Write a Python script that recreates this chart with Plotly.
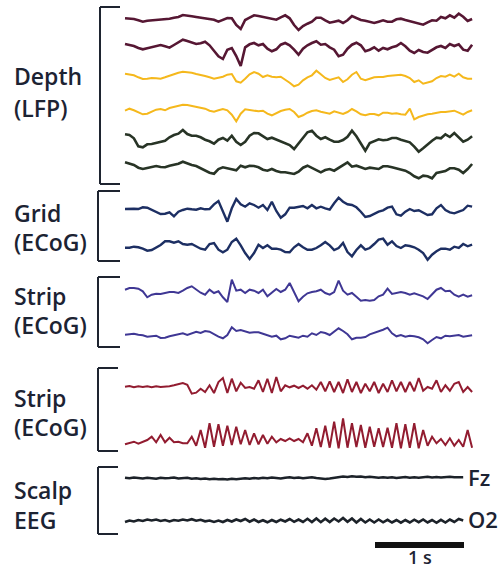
import numpy as np
import plotly.graph_objects as go

DT = 0.05  # seconds per sample
PX_PER_S = 89.0  # horizontal scale (1 s scale bar)

# ---- channel amplitudes (arbitrary units, positive = up) ----
depth1 = [1.7,1.3,1,-0.3,-1.7,-0.7,-0.3,0,0.3,0.7, 1.3,2.3,3,5,4.7,3.7,3,2.3,2,1.3,
          0.3,-1.7,0,2,1.7,-5,-9,0,2.3,4.7, 4,3,2,0.7,0.3,2.7,4.7,1.7,-5,-10,
          -6,-3.7,-1.7,2.3,2.3,-0.3,-2.7,-1.7,-0.7,-3, -0.3,4,1.7,0,-0.7,-2,-3,-1.7,-0.3,-1.7,
          -1.7,0.7,1.3,0,-1,-2,-3.3,-4.7,-2.3,-0.3, -0.7,3,1.7,4.7,2.3,6.3,3.3,-1,1]
depth2 = [4,3.3,2,0,-1.3,-0.3,1,1.7,3,1.7, 0.3,3,6,8.3,7,5.3,4,4.7,6.3,2.7,
          -3.3,-8.3,-11,-1.7,0,-8,-18,0.7,3.7,5, 2.7,4,-0.7,-3.3,-1.3,3.3,5,2.7,-1.7,-6.7,
          -0.7,2.7,5,6.7,3.3,4,0.7,-1.7,-8.3,-6.7, -0.7,3.3,5.3,2.7,-3.3,-1.7,0.7,-2.7,0,-1.3,
          0.7,2,5,1.7,-2.7,-5,-2,-4,-4.7,-1.7, 0.7,2,0,4,2,3.7,-1.7,-2.7,3.3]
depth3 = [3.3,2.7,1.7,-0.3,-2,-1.7,-1,-1.3,-1.7,-0.3, 1.3,3,4.3,5.3,5,4.3,3,2.3,1,-0.3,
          -1.7,-0.7,0.3,2.3,3,-4.3,-5.7,-1.7,2.7,5, 3.3,0,1.7,0.3,-0.3,0.3,-2.3,-5.7,-9.3,-7.7,
          -3.3,-0.3,1.7,6.3,2.7,-1,-3,-1.7,-0.3,-5, -2.3,2.3,5,-1.7,-3.3,-1.7,-0.3,0,0,1,
          1.3,1.7,2.3,1,-1,-5,-3.3,-6.7,-5.7,-4.3, -1,1,0.3,2.3,0.3,3.3,-0.3,-1.7,-1.7]
depth4 = [1.3,3.3,1.7,0,-2.3,-1.7,0,2.3,3,1.7, 4,5.3,6.7,7.3,7,6,5.3,4.3,3.3,1.3,
          0.3,1.7,3,1.7,-2.7,-9.3,-1.7,2.7,2,0.7, 0.7,1.3,-1.7,-3.3,-1,1,2.3,3,0,-5,
          -3.3,-0.7,1,1.7,0.3,-1,-1.7,0.7,-0.7,-2, 0,3,0.7,-2.3,-3.3,-2,-2,-3.3,-0.7,-0.7,
          -1.7,-1.3,-2.3,-2.7,3.3,-7.3,-5,-3.3,-2.3,-1.7, -0.7,0,0,0.7,1.3,-0.7,-2.7,0,1.7]
depth5 = [4.7,4,0.7,-7.3,-8.3,-5.3,-5,-4,-2.7,-1.7, 1.7,4,5.3,9,5,3.3,3.3,1.7,-0.7,-2.3,
          -4.7,-0.7,1,-1.7,3.3,-2.7,-6,-2.7,3.3,6, 5.7,2.7,0,1.3,-0.7,-2.3,-4,-6,-10,-4.7,
          1.3,6.7,8.3,3.3,0,1.7,-0.7,-2.7,-2.7,-1, 2.3,8.3,2.7,-4,-11.7,-4,-2,-0.3,-1.3,-0.7,
          1,1,-0.7,-1.7,-3.3,-7.7,-12.7,-9.3,-5,-1.7, 1.3,0.7,4.7,2,6,1.7,-2.7,-0.7,2.7]
depth6 = [6.7,5.3,4,1.3,0,1,2.3,3,2,1.7, 3.3,4.3,5.3,7.3,5.3,4,3,0.7,-1.7,-3.7,
          -4.7,0,1.7,0.7,-0.7,-1.3,3.3,1.7,3.3,3, 1.7,-0.7,-1.7,0,-2,-3.3,-3.3,-4.3,-5,-2.7,
          1.3,3.3,1.3,-0.7,-3.3,-1,0,-1.7,1,4, 6.7,2.3,3.3,1.7,0,1.3,1,0,2.7,2.7,
          1.7,0.7,0,-1.7,-4,-7.3,-9.3,-6.7,-7.3,-9.3, -4,-3.3,-2,0.7,0.7,-0.7,-4,0,5]
grid1 = [1,1.3,1.3,1,2.7,2.3,0.3,-1.7,-4,-3.7, -2.3,-6.3,-1.7,0,1.3,0.7,0.3,1.7,0.7,1,
         5.7,9,-1.7,-11.7,1.7,11,5.7,3.3,6.7,5, 2.3,5,0,8.3,-1,-7.7,-4.3,2.3,2.3,3.3,
         4,1.7,5,1.7,3.3,1.7,0.3,6.7,12.3,8.3, 5.7,5,2.7,-1.7,-7,-6,-3.7,-1.7,-0.3,2.3,
         3.3,-4.3,-5.7,-1.7,1,-1,-0.3,-2.3,-5,-4.3, 1.7,5,0,-2.3,-3.3,-1.7,0,4.3,3.3]
grid2 = [0.3,0.3,1.3,0.7,-0.7,-2.7,-2,0.7,3,6.7, 6.7,5.3,6.7,4,3.3,4,1.3,-0.7,-1.7,4,
         5,-1.7,-4.3,-1.7,6,9.3,2.7,-5,-11,-5, 3.3,0,2.7,-0.7,-0.7,-1.7,-4,-4.3,0.7,4,
         0.7,-1.7,-1.7,0,2.7,6,2.7,-2,0,5, -4,-8.3,-2,2.7,-1.7,0,4,8.3,9.3,3.3,
         6.7,2,0,2.7,2,0.7,-1.7,-5,-11.7,-6.7, -3.3,-0.7,-0.7,-1.7,1.3,0,4,1.7,3.3]
strip1a = [3.3,5,5,4.3,1.7,-4.3,-1.7,-0.7,-1,0, 1,1,0,2.3,5,6.7,3.3,0.3,-1.7,3.3,
           0,1.7,-4.3,-9,13.3,2.3,3.3,0,3.3,2.3, 0,3.3,-3.3,0,4,1,3.3,10,0,-8.3,
           -3.7,-0.3,1,1.7,3.3,0,-1.7,1,12.3,2.3, -1.7,0,-3.7,-7.7,-7,-7.7,-7,-3.3,-1.7,4.3,
           -1,-0.3,1,0,-1.7,-0.3,-1.7,-3.3,-6,-1.7, 3.3,5,1.7,2.3,-1.7,-3.7,-1.7,-3.7,-2.3]
strip1b = [0.3,1,1.3,0.3,-0.3,-1.7,-1,-0.7,-3,-2.7, -1.3,-0.3,0.7,1.7,0,1.7,3.3,2,4,3.3,
           0.7,-1.7,-3.3,0,7.7,4,5,4,2.3,2.7, 2.7,1.3,0,-1.7,-0.7,-4.3,-3.3,-0.7,-1.7,-2.7,
           -0.7,-1.7,1.7,0,3,2,0,3.3,6.7,4, 0.7,-4.3,-2.7,-2.7,-2,0.7,2,3.3,5.3,7.3,
           1.7,-1.3,0,-1.7,-0.7,-1.3,-2.3,-4.3,-8.3,-5, -2,-3.3,-0.7,-1.3,-0.7,0,-1.7,-0.7,-0.3]
strip2a = [0.3,1,-0.3,0.7,0,0.7,-0.3,0.7,0,0.3, 0.7,1.7,2.7,4,2.3,
           -6.7,-5.7,-1.7,-5,1.7, -6,5,9,-6,8.3, -4.3,4.3,-1,0,-1.7, 6.7,-5,8.3,-6,10,
           -4.3,1.7,-0.3,1.3,-1, 1.3,-1.7,1.7,-2.7,5, -4.3,5.7,-5,5,-6, 7.7,-5,5,-6,3.3,
           -4.3,5,-6,3.3,-5, 6.7,-4.3,5,-5,5, -4.3,9,-3.7,0,-1.7, 6.7,-5,1.7,-3.7,3.3, 5,-5,0,-5]
strip2b = [-4.3,-3.3,-1.7,-3.7,-1.7,0,3.3,-2.3,5,-2.3, 2.3,-2.3,-1.7,-3.3,-3.3,3.3,-5.7,10,-7.7,16.7,
           -6.7,15.7,-5.7,14.3,-5,13.3,-4.3,10,-5,6.7, -4.3,5,-3.7,3.3,-2.3,1,-1,1.7,-1,1,
           -2.3,6.7,-5.7,11.7,-7,14.3,-7.7,18.3,-8.3,21.7, -7.7,16.7,-7,15,-7.7,13.3,-6.7,11.7,-7,12.3,
           -7.7,16.7,-8.3,15.7,-7.7,16.7,-8.3,10,-5.7,3.3, -3.3,1,-5,1.7,-5.7,0,-6.7,10,-7.7]
scalp_fz = [0.3,-0.3,0.5,0,-0.5,0.3,0,-0.7,0.3,-0.3, 0,0.5,-0.5,0,0.3,-0.7,-0.3,-1,-0.5,-1.3,
            -0.7,-1.3,-1,-1.5,-0.7,-1.3,-0.5,-0.3,-0.8,0, -0.5,0.3,-0.3,0.5,0,-0.5,0.3,0.8,0,0.5,
            -0.3,0.3,0.8,0,-0.5,-1,-0.5,0.3,1,1.5, 1,1.7,1.2,1.5,0.7,1.3,0.8,0.3,0.8,0.2,
            0.7,0,0.5,1,0.3,0.7,0.2,0.8,1.2,0.5, 1,0.5,0.8,1.3,0.7,1,0.8]
scalp_o2 = [-1,0.5,-0.5,1,0,1.5,0.5,1.5,0,1, -0.5,1,0.3,1.5,0.5,1.8,0.3,1.2,-0.3,0.5,
            -1,0.5,-1,1,-0.5,1.5,0,2,-0.7,1.5, -1,0.8,-1.3,1,-1,1.3,-0.5,2,-0.8,1.5,
            -1,2.2,-1,2.5,-1.2,2.3,-1,2.5,-0.5,3, -0.8,2.5,-1.5,2,-1.5,1.5,-1.5,1.5,-1.3,1.2,
            -1.5,1,-1.7,1,-1.5,1.3,-1.2,1.5,-1.5,1, -1.8,1.2,-1.5,1.5,-1,2,0.5]

channels = [depth1, depth2, depth3, depth4, depth5, depth6,
            grid1, grid2, strip1a, strip1b, strip2a, strip2b, scalp_fz, scalp_o2]
channel_rows = [20, 48, 77, 112, 139, 169, 210, 248, 293, 335, 387, 440, 478, 521]
channel_colors = ["#561733", "#561733", "#f5b81c", "#f5b81c", "#283426", "#283426",
                  "#1d2f63", "#1d2f63", "#3f3794", "#3f3794", "#921c30", "#921c30",
                  "#1c2229", "#1c2229"]
channel_widths = [2.6, 2.6, 2.0, 2.0, 2.6, 2.6, 2.4, 2.4, 2.0, 2.0, 2.0, 2.0, 2.6, 2.6]

group_labels = [("Depth", 76), ("(LFP)", 108), ("Grid", 213), ("(ECoG)", 242),
                ("Strip", 296), ("(ECoG)", 325), ("Strip", 398), ("(ECoG)", 427),
                ("Scalp", 490), ("EEG", 520)]
brackets = [(100, 7, 184, 120), (98, 191, 261, 120), (98, 277, 347, 120),
            (98, 368, 451, 118), (98, 467, 534, 118)]
end_labels = [("Fz", 477), ("O2", 519)]

W, H = 504, 571
X0 = 125  # pixel where t = 0

fig = go.Figure()
for vals, row, col, lw in zip(channels, channel_rows, channel_colors, channel_widths):
    v = np.array(vals, dtype=float)
    t = np.arange(len(v)) * DT
    fig.add_trace(go.Scatter(x=t, y=row - v, mode="lines",
                             line=dict(color=col, width=lw),
                             hoverinfo="skip", showlegend=False))

shapes = []
for (bx, top, bot, right) in brackets:
    for (xa, ya, xb, yb) in [(bx, top, bx, bot), (bx, top, right, top), (bx, bot, right, bot)]:
        shapes.append(dict(type="line", xref="paper", yref="y",
                           x0=xa / W, x1=xb / W, y0=ya, y1=yb,
                           line=dict(color="#1e2430", width=2)))
# scale bar: 1 s
bar_t0 = (375 - X0) / PX_PER_S
shapes.append(dict(type="line", xref="x", yref="y", x0=bar_t0, x1=bar_t0 + 1.0,
                   y0=545, y1=545, line=dict(color="#111111", width=6)))

annotations = []
txt_font = dict(family="'Open Sans', Lato, sans-serif", size=23, color="#1c2333", weight=600)
for text, y in group_labels:
    annotations.append(dict(text=text, xref="paper", yref="y", x=12 / W, y=y,
                            xanchor="left", yanchor="middle", showarrow=False, font=txt_font))
end_font = dict(family="'Open Sans', Lato, sans-serif", size=22, color="#1c2333", weight=600)
for text, y in end_labels:
    annotations.append(dict(text=text, xref="paper", yref="y", x=466 / W, y=y,
                            xanchor="left", yanchor="middle", showarrow=False, font=end_font))
annotations.append(dict(text="1 s", xref="x", yref="y", x=bar_t0 + 0.5, y=557,
                        xanchor="center", yanchor="middle", showarrow=False,
                        font=dict(family="'Open Sans', sans-serif", size=18, color="#1c2333", weight=600)))

fig.update_layout(
    width=W, height=H, autosize=False,
    margin=dict(l=0, r=0, t=0, b=0),
    paper_bgcolor="white", plot_bgcolor="white",
    xaxis=dict(range=[-X0 / PX_PER_S, (W - X0) / PX_PER_S], visible=False, fixedrange=True),
    yaxis=dict(range=[H, 0], visible=False, fixedrange=True),
    shapes=shapes, annotations=annotations,
)
fig.write_html("out.html")
